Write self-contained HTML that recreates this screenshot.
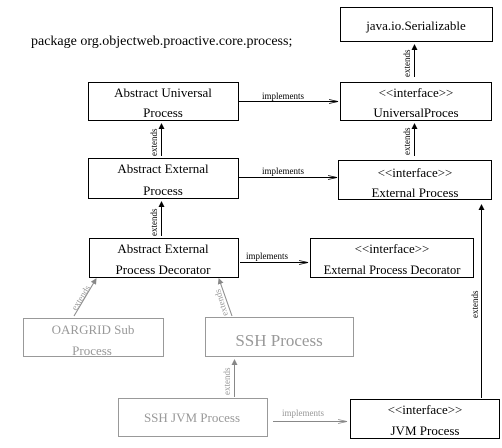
<!DOCTYPE html>
<html><head><style>body{margin:0;background:#fff}</style></head><body>
<svg width="502" height="443" xmlns="http://www.w3.org/2000/svg" font-family="Liberation Serif, serif">
<defs>
<marker id="a" markerWidth="6" markerHeight="6" refX="5" refY="3" orient="auto"><path d="M0,0 L6,3 L0,6 z" fill="#000"/></marker>
<marker id="g" markerWidth="6" markerHeight="6" refX="5" refY="3" orient="auto"><path d="M0,0 L6,3 L0,6 z" fill="#888"/></marker>
<marker id="o" markerWidth="10" markerHeight="6" refX="9" refY="3" orient="auto"><path d="M0,1 L9,3 L0,5" fill="none" stroke="#000" stroke-width="0.8"/></marker>
<marker id="og" markerWidth="10" markerHeight="6" refX="9" refY="3" orient="auto"><path d="M0,1 L9,3 L0,5" fill="none" stroke="#888" stroke-width="0.8"/></marker>
</defs>
<text x="31" y="45" font-size="14">package org.objectweb.proactive.core.process;</text>
<g fill="#fff" stroke="#000" stroke-width="1">
<rect x="340.5" y="7.5" width="152" height="34"/>
<rect x="88.5" y="82.5" width="150" height="38"/>
<rect x="340.5" y="82.5" width="151" height="38"/>
<rect x="88.5" y="158.5" width="150" height="40"/>
<rect x="338.5" y="160.5" width="153" height="39"/>
<rect x="89.5" y="238.5" width="149" height="39"/>
<rect x="310.5" y="238.5" width="163" height="39"/>
<rect x="350.5" y="399.5" width="149" height="39"/>
</g>
<g fill="#fff" stroke="#999" stroke-width="1">
<rect x="23.5" y="318.5" width="140" height="38"/>
<rect x="205.5" y="317.5" width="148" height="39"/>
<rect x="118.5" y="398.5" width="149" height="38"/>
</g>
<g font-size="13" text-anchor="middle">
<text x="416" y="30">java.io.Serializable</text>
<text x="163" y="97">Abstract Universal</text><text x="163" y="117">Process</text>
<text x="416" y="97">&lt;&lt;interface&gt;&gt;</text><text x="416" y="117">UniversalProces</text>
<text x="163" y="173">Abstract External</text><text x="163" y="195">Process</text>
<text x="415" y="177">&lt;&lt;interface&gt;&gt;</text><text x="415" y="197">External Process</text>
<text x="163" y="253">Abstract External</text><text x="163" y="274">Process Decorator</text>
<text x="392" y="253">&lt;&lt;interface&gt;&gt;</text><text x="392" y="274" font-size="12.5">External Process Decorator</text>
<text x="425" y="414">&lt;&lt;interface&gt;&gt;</text><text x="425" y="435">JVM Process</text>
<g fill="#999">
<text x="93" y="334">OARGRID Sub</text><text x="92" y="355">Process</text>
<text x="279" y="346" font-size="17">SSH Process</text>
<text x="192" y="422">SSH JVM Process</text>
</g>
</g>
<g stroke="#000" stroke-width="1" fill="none">
<line x1="414.5" y1="77" x2="414.5" y2="45" marker-end="url(#a)"/>
<line x1="161.5" y1="156" x2="161.5" y2="124" marker-end="url(#a)"/>
<line x1="414.5" y1="156" x2="414.5" y2="124" marker-end="url(#a)"/>
<line x1="161.5" y1="236" x2="161.5" y2="202" marker-end="url(#a)"/>
<line x1="481.5" y1="398" x2="481.5" y2="205" marker-end="url(#a)"/>
<line x1="239" y1="101.5" x2="338" y2="101.5" marker-end="url(#o)"/>
<line x1="239" y1="177.5" x2="337" y2="177.5" marker-end="url(#o)"/>
<line x1="240" y1="262.5" x2="308" y2="262.5" marker-end="url(#o)"/>
</g>
<g stroke="#888" stroke-width="1" fill="none">
<line x1="74" y1="316" x2="96" y2="279" marker-end="url(#g)"/>
<line x1="232" y1="316" x2="219" y2="279" marker-end="url(#g)"/>
<line x1="234.5" y1="397" x2="234.5" y2="360" marker-end="url(#g)"/>
<line x1="273" y1="421.5" x2="347" y2="421.5" marker-end="url(#og)"/>
</g>
<g font-size="9">
<text x="262" y="99">implements</text>
<text x="262" y="174">implements</text>
<text x="246" y="259">implements</text>
<text x="282" y="416" fill="#999">implements</text>
<text transform="translate(410,77) rotate(-90)">extends</text>
<text transform="translate(157,156) rotate(-90)">extends</text>
<text transform="translate(410,155) rotate(-90)">extends</text>
<text transform="translate(157,236) rotate(-90)">extends</text>
<text transform="translate(478,318) rotate(-90)">extends</text>
<text transform="translate(230,395) rotate(-90)" fill="#999">extends</text>
<text transform="translate(76,311) rotate(-58)" fill="#999">extends</text>
<text transform="translate(228,315) rotate(-107)" fill="#999">extends</text>
</g>
</svg>
</body></html>
